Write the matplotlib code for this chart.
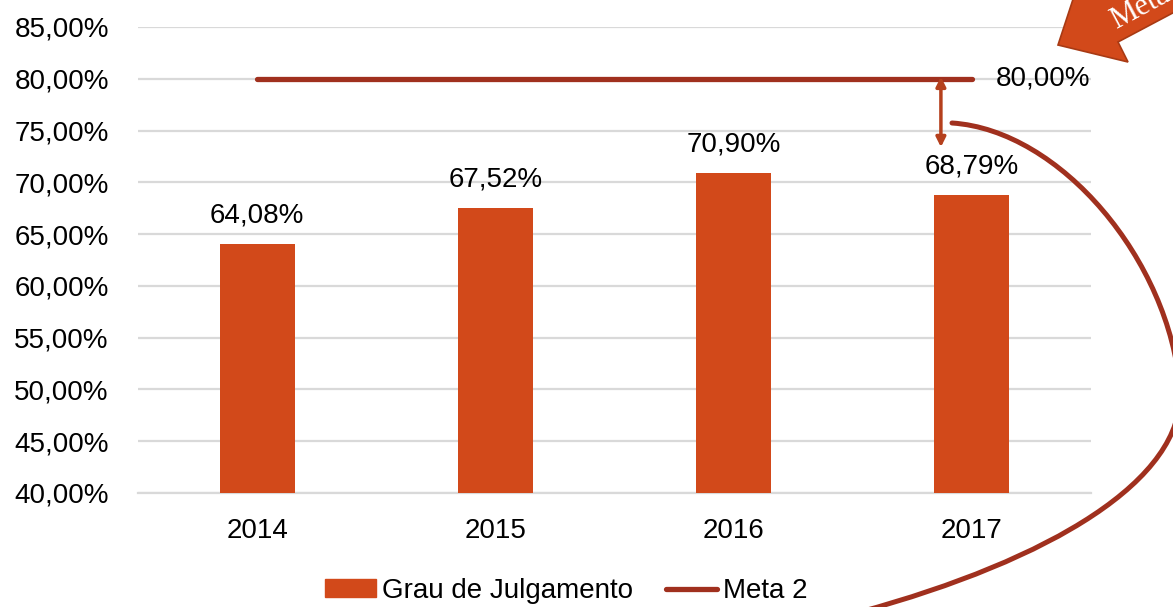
import matplotlib
matplotlib.use("Agg")
from matplotlib import pyplot as plt
from matplotlib.patches import Polygon, PathPatch, Patch
from matplotlib.lines import Line2D
from matplotlib.path import Path
from matplotlib.ticker import FuncFormatter

anos = ["2014", "2015", "2016", "2017"]
grau_julgamento = [64.08, 67.52, 70.90, 68.79]
meta2 = [80.0, 80.0, 80.0, 80.0]
yticks = [40, 45, 50, 55, 60, 65, 70, 75, 80, 85]

FONT = ["Liberation Sans Narrow", "Liberation Sans", "DejaVu Sans"]
plt.rcParams["font.family"] = FONT
BAR = "#D2491A"
LINE = "#A0301E"
GRID = "#D9D9D9"
W, H = 1173, 607
FS = 20


def fmt(v):
    return f"{v:.2f}".replace(".", ",") + "%"


fig = plt.figure(figsize=(W / 100, H / 100), dpi=100)
ax = fig.add_axes([138 / W, 1 - 493 / H, (1091 - 138) / W, (493 - 27) / H])

x = list(range(len(anos)))
ax.bar(x, [g - 40 for g in grau_julgamento], bottom=40, width=0.315, color=BAR, zorder=3)
ax.plot(x, meta2, color=LINE, lw=3.8, solid_capstyle="round", zorder=4)

for xi, v in zip(x, grau_julgamento):
    ax.annotate(fmt(v), (xi, v), xytext=(0, 11), textcoords="offset points",
                ha="center", va="bottom", fontsize=FS)
ax.annotate(fmt(meta2[-1]), (x[-1], meta2[-1]), xytext=(17, 0), textcoords="offset points",
            ha="left", va="center", fontsize=FS)

# double arrow between meta and 2017
ax.annotate("", xy=(2.87, 80.2), xytext=(2.87, 73.4),
            arrowprops=dict(arrowstyle="<|-|>", color="#B5401D", lw=2.5,
                            mutation_scale=14, shrinkA=0, shrinkB=0), zorder=5)

ax.set_xlim(-0.5, 3.5)
ax.set_ylim(40, 85)
ax.set_yticks(yticks)
ax.yaxis.set_major_formatter(FuncFormatter(lambda v, p: fmt(v)))
ax.set_xticks(x)
ax.set_xticklabels(anos)
ax.tick_params(axis="y", length=0, pad=21, labelsize=FS)
ax.tick_params(axis="x", length=0, pad=18, labelsize=FS)
ax.grid(axis="y", color=GRID, lw=1.6, zorder=0)
for s in ["top", "right", "left"]:
    ax.spines[s].set_visible(False)
ax.spines["bottom"].set_color(GRID)
ax.spines["bottom"].set_linewidth(1.6)


def px(pts):
    return [(a / W, 1 - b / H) for a, b in pts]


# curved decoration
verts = px([(952, 123), (1060, 130), (1170, 260), (1180, 390),
            (1185, 480), (1050, 560), (860, 612)])
codes = [Path.MOVETO] + [Path.CURVE4] * 6
fig.patches.append(PathPatch(Path(verts, codes), transform=fig.transFigure,
                             fill=False, ec=LINE, lw=3.6, capstyle="round"))

# big arrow in the corner
arrow = px([(1058, 45), (1128, 62), (1118, 42), (1301, -55),
            (1270, -112), (1090, -12), (1082, -28)])
fig.patches.append(Polygon(arrow, closed=True, transform=fig.transFigure,
                           fc=BAR, ec="#A83A14", lw=1.2))
fig.text(1140 / W, 1 - 8 / H, "Meta", color="white", fontsize=22, rotation=28,
         family=["Liberation Serif", "DejaVu Serif"], ha="center", va="center",
         rotation_mode="anchor")

handles = [Patch(color=BAR), Line2D([], [], color=LINE, lw=3.8, solid_capstyle="round")]
fig.legend(handles, ["Grau de Julgamento", "Meta 2"], loc="center",
           bbox_to_anchor=(566 / W, 1 - 591 / H), ncol=2, frameon=False,
           fontsize=FS, handlelength=1.85, handleheight=0.6,
           handletextpad=0.2, columnspacing=1.2)

fig.savefig("out.png", dpi=100)
